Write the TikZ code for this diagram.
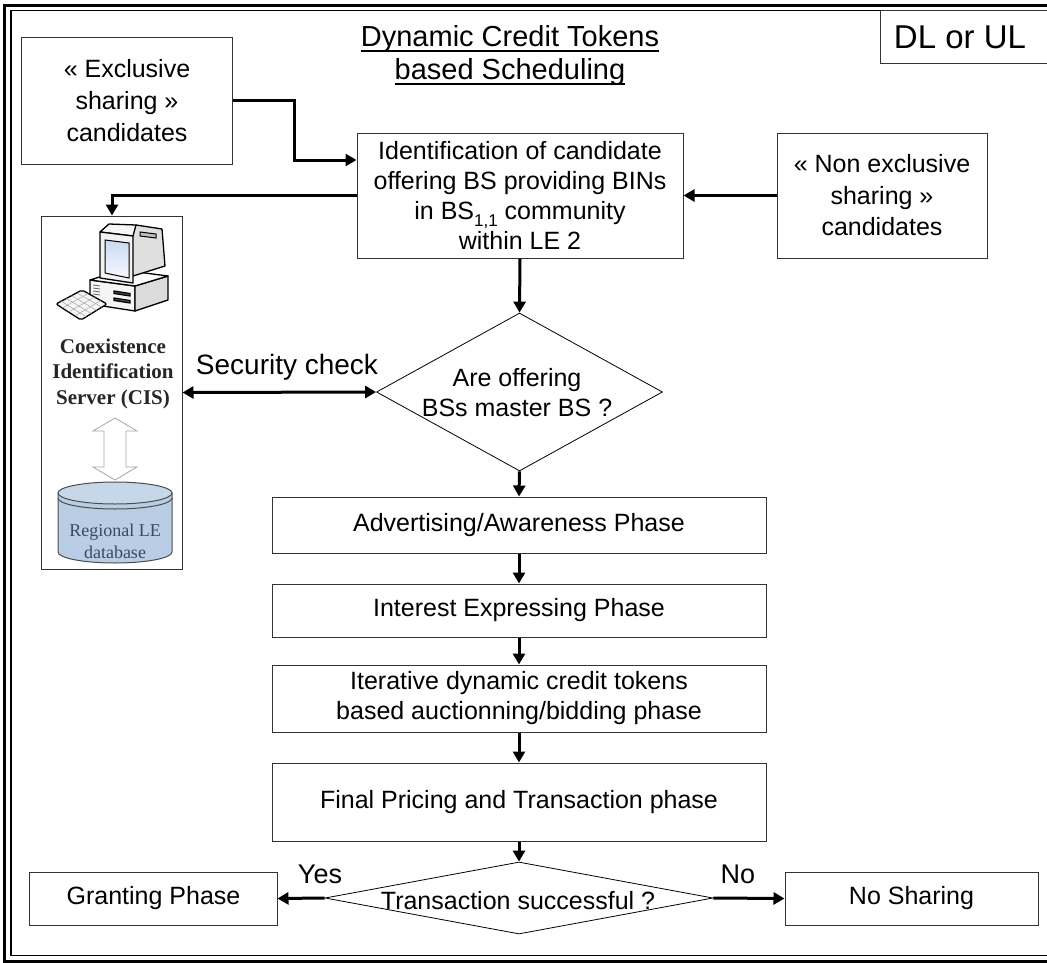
\documentclass[tikz,border=0pt]{standalone}
\usepackage{fontspec}
\setmainfont{Liberation Sans}
\newfontfamily\serifcis{Liberation Serif}
\usetikzlibrary{arrows.meta,shapes.geometric,calc}
\newcommand{\myfs}[2]{\fontsize{#1bp}{#2bp}\selectfont}
\definecolor{dbblue}{HTML}{B9CDE5}
\definecolor{dbtext}{HTML}{3C4B5C}
\definecolor{scrblue}{HTML}{C9D9F2}
\tikzset{
  box/.style={draw=black!80, line width=1bp, fill=white, inner sep=0pt, align=center, font=\myfs{25}{31}},
  dia/.style={diamond, draw=black, line width=0.8bp, inner sep=0pt, aspect=1},
  conn/.style={line width=3bp, -{Triangle[length=11bp,width=12bp]}},
  conn2/.style={line width=3bp, {Triangle[length=11bp,width=12bp]}-{Triangle[length=11bp,width=12bp]}},
  lbl/.style={inner sep=0pt, align=center, font=\myfs{25}{30}},
  icon/.style={draw=black, line width=1.3bp, line join=round},
}
\begin{document}
\begin{tikzpicture}[x=1bp,y=-1bp]
\useasboundingbox (0,0) rectangle (1047,963);
\clip (0,0) rectangle (1047,963);
% frame
\draw[line width=2.5bp] (4.5,5.5) rectangle (1070,961.5);
\draw[line width=1.2bp] (11,10.5) rectangle (1060,955.5);
% title
\node[font=\myfs{29}{33}, anchor=base, inner sep=0pt] (t1) at (510,46) {Dynamic Credit Tokens};
\node[font=\myfs{29}{33}, anchor=base, inner sep=0pt] (t2) at (510,79) {based Scheduling};
\draw[line width=1.8bp] ([yshift=-5bp]t1.base west) -- ([yshift=-5bp]t1.base east);
\draw[line width=1.8bp] ([yshift=-5bp]t2.base west) -- ([yshift=-5bp]t2.base east);
% DL or UL
\draw[line width=1bp, draw=black!80] (880,10.5) rectangle (1060,63);
\node[font=\myfs{33}{36}, inner sep=0pt] (dl) at (960,37) {DL or UL};
% top boxes
\node[box, minimum width=210bp, minimum height=127bp, font=\myfs{25}{32}] (excl) at (127,100.5) {« Exclusive\\sharing »\\candidates};
\node[box, minimum width=326bp, minimum height=125bp, font=\myfs{25}{30}] (ident) at (520,195.5) {Identification of candidate\\offering BS providing BINs\\in BS\raisebox{-0.28em}{\myfs{17}{17}1,1} community\\within LE 2};
\node[box, minimum width=210bp, minimum height=125bp, font=\myfs{25}{31.5}] (nonex) at (882,195.5) {« Non exclusive\\sharing »\\candidates};
% CIS box
\node[box, minimum width=140bp, minimum height=353bp] (cis) at (112,392.5) {};
% computer icon: base
\draw[icon, fill=gray!8] (90,280) -- (135,286) -- (135,311) -- (90,304) -- cycle;
\draw[icon, fill=gray!28] (135,286) -- (168,276) -- (168,300) -- (135,311) -- cycle;
\draw[icon, fill=gray!4] (90,280) -- (122,270) -- (168,276) -- (135,286) -- cycle;
\draw[line width=1.2bp, fill=black!70] (114,291) -- (130,293.5) -- (130,296) -- (114,293.5) -- cycle;
\draw[line width=1.2bp, fill=black!70] (114,298) -- (130,300.5) -- (130,303) -- (114,300.5) -- cycle;
\foreach \k in {0,3,6,9} {\draw[line width=0.8bp, black!60] (93,285+\k) -- (100,286+\k);}
% computer icon: monitor
\draw[icon, fill=gray!25] (124,231) -- (136,225) -- (162,229) -- (165,266) -- (133,276) -- cycle;
\draw[icon, fill=gray!6] (100,232) -- (109,224) -- (136,225) -- (133,236) -- cycle;
\draw[icon, fill=gray!10] (100,232) -- (133,236) -- (133,283) -- (100,278) -- cycle;
\shade[top color=scrblue, bottom color=white!85!scrblue, draw=black, line width=1bp] (105,240) -- (129,243) -- (129,278) -- (105,273) -- cycle;
\draw[line width=1bp, fill=gray!50] (140,232) -- (156,234) -- (156,238) -- (140,236) -- cycle;
% keyboard
\draw[icon, fill=gray!8, rounded corners=2bp] (56,304) -- (82,290) -- (107,304) -- (81,320) -- cycle;
\foreach \t in {0.25,0.5,0.75} {\draw[line width=0.5bp, gray!70] ($(56,304)!\t!(81,320)$) -- ($(82,290)!\t!(107,304)$);}
\foreach \t in {0.2,0.4,0.6,0.8} {\draw[line width=0.5bp, gray!70] ($(56,304)!\t!(82,290)$) -- ($(81,320)!\t!(107,304)$);}
% CIS text
\node[inner sep=0pt, align=center, font=\serifcis\bfseries\myfs{21}{25.5}, text=black!85] (cistext) at (113,373.5) {Coexistence\\Identification\\Server (CIS)};
% hollow double arrow
\draw[line width=0.8bp, draw=gray!70, fill=white] (115,418) -- (137,431) -- (126,431) -- (126,467) -- (137,467) -- (115,480) -- (93,467) -- (104,467) -- (104,431) -- (93,431) -- cycle;
% database
\draw[line width=1bp, draw=black!70, fill=dbblue] (58,493) -- (58,552) arc[start angle=180, end angle=0, x radius=57, y radius=11] -- (172,493) -- cycle;
\draw[line width=1bp, draw=black!70, fill=dbblue!80] (115,493) ellipse [x radius=57, y radius=11];
\draw[line width=1bp, draw=black!70] (58,498) arc[start angle=180, end angle=0, x radius=57, y radius=11];
\node[inner sep=0pt, align=center, font=\serifcis\myfs{18}{22}, text=dbtext] (dbtext) at (115,541) {Regional LE\\database};
% diamond 1
\node[dia, minimum width=286bp, minimum height=158bp] (d1) at (519.5,392) {};
\node[lbl] (d1t) at (517,393) {Are offering\\BSs master BS ?};
% phases
\node[box, minimum width=494bp, minimum height=56bp] (adv) at (519,525) {Advertising/Awareness Phase};
\node[box, minimum width=494bp, minimum height=53bp] (int) at (519,610.5) {Interest Expressing Phase};
\node[box, minimum width=494bp, minimum height=67bp, font=\myfs{25}{30}] (iter) at (519,698.5) {Iterative dynamic credit tokens\\based auctionning/bidding phase};
\node[box, minimum width=494bp, minimum height=78bp] (fin) at (519,802) {Final Pricing and Transaction phase};
% diamond 2
\node[dia, minimum width=388bp, minimum height=72bp] (d2) at (519,898) {};
\node[lbl] (d2t) at (518,901) {Transaction successful ?};
\node[box, minimum width=247bp, minimum height=53bp] (grant) at (153.5,898.5) {Granting Phase};
\node[box, minimum width=253bp, minimum height=53bp] (nosh) at (911.5,898.5) {No Sharing};
\node[lbl, font=\myfs{27}{30}] (yes) at (320,874) {Yes};
\node[lbl, font=\myfs{27}{30}] (no) at (738,874) {No};
% security
\node[lbl, font=\myfs{28}{30}] (sec) at (287,367) {Security check};
% connectors
\draw[conn] (excl.east) -- ++(62,0) |- ([yshift=35.5bp]ident.west);
\draw[conn] (nonex.west) -- (ident.east);
\draw[conn] (ident.west) -| (cis.north);
\draw[conn] (ident.south) -- (d1.north);
\draw[conn2] (cis.east) -- (d1.west);
\draw[conn] (d1.south) -- (adv.north);
\draw[conn] (adv.south) -- (int.north);
\draw[conn] (int.south) -- (iter.north);
\draw[conn] (iter.south) -- (fin.north);
\draw[conn] (fin.south) -- (d2.north);
\draw[conn] (d2.west) -- (grant.east);
\draw[conn] (d2.east) -- (nosh.west);
\end{tikzpicture}
\end{document}
